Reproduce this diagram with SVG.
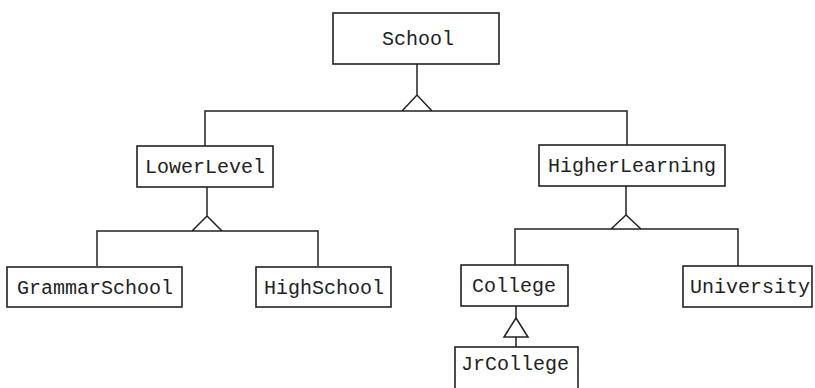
<svg xmlns="http://www.w3.org/2000/svg" width="815" height="388" viewBox="0 0 815 388">
<style>
.box{fill:#fff;stroke:#222;stroke-width:1.6}
.lbl{font-family:"Liberation Mono","Courier New",monospace;font-size:20px;fill:#222;text-anchor:middle}
.ln{fill:none;stroke:#222;stroke-width:1.5}
</style>
<rect width="815" height="388" fill="#fff"/>
<g id="connectors">
<path class="ln" d="M417 64V95M402 111L417 95L432 111M205 146V111H627V145"/>
<path class="ln" d="M207 187V216M192 231L207 216L222 231M97 266V231H318V266"/>
<path class="ln" d="M626 186V215M611 229L626 215L641 229M515 265V229H738V266"/>
<path class="ln" d="M516 306V318M516 337V347"/>
<polygon class="ln" points="516,318 504,337 528,337"/>
</g>
<g id="School"><rect class="box" x="333" y="13" width="166" height="51"/><text class="lbl" x="418" y="45">School</text></g>
<g id="LowerLevel"><rect class="box" x="137" y="146" width="136" height="41"/><text class="lbl" x="205" y="173">LowerLevel</text></g>
<g id="HigherLearning"><rect class="box" x="539" y="145" width="186" height="41"/><text class="lbl" x="632" y="172">HigherLearning</text></g>
<g id="GrammarSchool"><rect class="box" x="7" y="267" width="175" height="40"/><text class="lbl" x="95" y="294">GrammarSchool</text></g>
<g id="HighSchool"><rect class="box" x="256" y="267" width="135" height="40"/><text class="lbl" x="324" y="294">HighSchool</text></g>
<g id="College"><rect class="box" x="461" y="265" width="107" height="41"/><text class="lbl" x="514" y="292">College</text></g>
<g id="University"><rect class="box" x="683" y="266" width="129" height="41"/><text class="lbl" x="750" y="293">University</text></g>
<g id="JrCollege"><rect class="box" x="455" y="347" width="123" height="50"/><text class="lbl" x="515" y="370">JrCollege</text></g>
</svg>
